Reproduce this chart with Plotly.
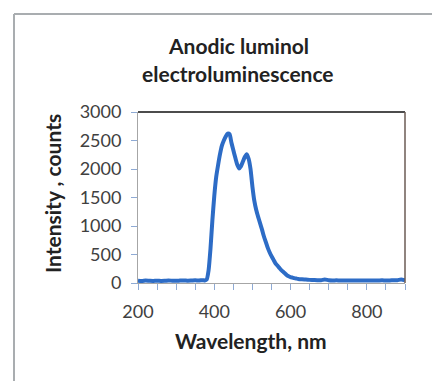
import plotly.graph_objects as go

wavelength_nm = (
    [200, 210, 220, 230, 240, 250, 260, 270, 280, 290, 300, 310, 320, 330, 340, 350, 360, 370]
    + [375, 380, 385, 390, 395, 400, 405, 410, 415, 420, 425, 430, 435, 440, 445, 450, 455, 460,
       465, 470, 475, 480, 485, 490, 495, 500, 505, 510, 515, 520, 525, 530, 535, 540, 545, 550,
       555, 560, 565, 570, 575, 580, 585, 590, 595, 600, 605, 610, 615, 620]
    + [630, 640, 650, 660, 670, 680, 690, 700, 710, 720, 730, 740, 750, 760, 770, 780, 790, 800,
       810, 820, 830, 840, 850, 860, 870, 880, 890, 900]
)
intensity_counts = (
    [40, 35, 42, 38, 36, 41, 37, 39, 44, 40, 38, 42, 45, 40, 43, 47, 44, 50]
    + [45, 60, 220, 600, 1100, 1530, 1860, 2070, 2260, 2410, 2500, 2570, 2620, 2610, 2460, 2330,
       2200, 2080, 2010, 2050, 2130, 2210, 2260, 2180, 2000, 1690, 1440, 1280, 1160, 1050, 940, 820,
       720, 620, 540, 470, 410, 350, 310, 270, 230, 200, 170, 140, 120, 105, 95, 85, 78, 72]
    + [65, 60, 55, 52, 48, 50, 62, 48, 45, 47, 44, 46, 43, 45, 42, 44, 46, 43, 45, 42, 44, 47, 43,
       45, 48, 50, 62, 45]
)

title_lines = ["Anodic luminol", "electroluminescence"]
x_title = "Wavelength, nm"
y_title = "Intensity , counts"
x_ticks = [200, 400, 600, 800]
y_ticks = [0, 500, 1000, 1500, 2000, 2500, 3000]

W, H = 432, 381
L, R, T, B = 138, 405, 112, 283
pw, ph = R - L, B - T

def px(x):
    return (x - L) / pw

def py(y):
    return (B - y) / ph

FONT = "Lato"
tick_col = "#8eaad4"

fig = go.Figure(go.Scatter(
    x=wavelength_nm, y=intensity_counts, mode="lines",
    line=dict(color="#2d6cc6", width=4, shape="spline", smoothing=0.6), hoverinfo="skip"))

fig.update_layout(
    width=W, height=H,
    margin=dict(l=L, r=W - R, t=T, b=H - B, pad=0),
    paper_bgcolor="white", plot_bgcolor="white",
    showlegend=False,
    xaxis=dict(range=[200, 900], tickvals=x_ticks, showgrid=False, zeroline=False,
               showline=True, linecolor="#a6a6a6", linewidth=1,
               ticks="outside", ticklen=6, tickcolor=tick_col, tickwidth=1,
               minor=dict(dtick=50, tick0=200, ticks="outside", ticklen=6, tickcolor=tick_col, showgrid=False),
               tickfont=dict(family=FONT, size=18, color="#404040"),
               ticklabelstandoff=6),
    yaxis=dict(range=[0, 3000], tickvals=y_ticks, showgrid=False, zeroline=False,
               showline=True, linecolor="#a6a6a6", linewidth=1,
               ticks="outside", ticklen=6, tickcolor=tick_col, tickwidth=1,
               tickfont=dict(family=FONT, size=18, color="#404040"),
               ticklabelstandoff=6),
)

shapes = [
    dict(type="line", xref="paper", yref="paper", x0=0, x1=1, y0=1, y1=1,
         line=dict(color="#111111", width=1.5)),
    dict(type="line", xref="paper", yref="paper", x0=1, x1=1, y0=0, y1=1,
         line=dict(color="#6b5b55", width=1.5)),
    dict(type="line", xref="paper", yref="paper", x0=px(14), x1=px(14), y0=py(14), y1=py(H + 5),
         line=dict(color="#a9adb0", width=2)),
    dict(type="line", xref="paper", yref="paper", x0=px(14), x1=px(W + 5), y0=py(14), y1=py(14),
         line=dict(color="#a9adb0", width=2)),
]
fig.update_layout(shapes=shapes)

annots = [
    dict(text=f"<b>{title_lines[0]}</b>", x=px(238), y=py(45)),
    dict(text=f"<b>{title_lines[1]}</b>", x=px(238), y=py(73)),
    dict(text=f"<b>{x_title}</b>", x=px(251), y=py(340)),
    dict(text=f"<b>{y_title}</b>", x=px(52), y=py(194), textangle=-90),
]
for a in annots:
    fig.add_annotation(xref="paper", yref="paper", showarrow=False,
                       xanchor="center", yanchor="middle",
                       font=dict(family=FONT, size=21, color="#222222"), **a)

fig.write_html("out.html")
